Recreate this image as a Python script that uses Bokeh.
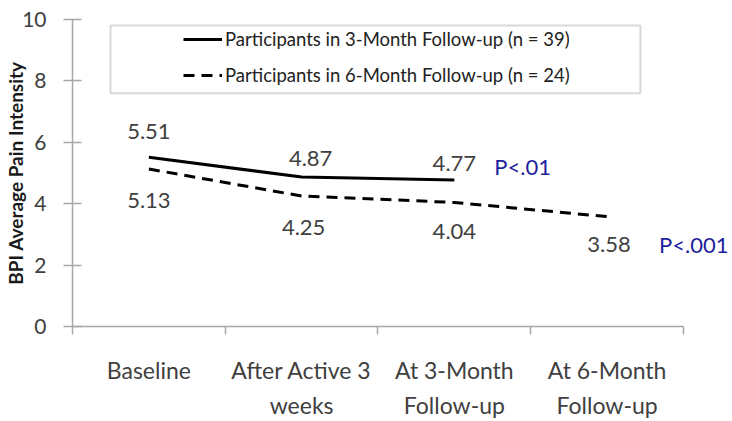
from bokeh.plotting import figure
from bokeh.models import Range1d, FixedTicker, ColumnDataSource, Legend, LegendItem, BoxAnnotation
from bokeh.embed import file_html
from bokeh.resources import INLINE
from bokeh.core.properties import value

# ---- data ----
categories = ["Baseline", "After Active 3\nweeks", "At 3-Month\nFollow-up", "At 6-Month\nFollow-up"]
three_month = [5.51, 4.87, 4.77]
six_month = [5.13, 4.25, 4.04, 3.58]
series_names = ["Participants in 3-Month Follow-up (n = 39)",
                "Participants in 6-Month Follow-up (n = 24)"]
p_values = ["P<.01", "P<.001"]
y_ticks = [0, 2, 4, 6, 8, 10]

# ---- style ----
FONT = "Lato"
AXIS_GRAY = "#a6a6a6"
TEXT_GRAY = "#404040"
P_BLUE = "#1f1f9e"

n_cat = len(categories)
centers = [i + 0.5 for i in range(n_cat)]

p = figure(width=732, height=421, output_backend="svg", toolbar_location=None,
           x_range=Range1d(0, 4.321), y_range=Range1d(0, 10),
           min_border_left=72, min_border_right=0, min_border_top=19, min_border_bottom=94)
p.outline_line_color = None
p.grid.visible = False
p.background_fill_color = "white"

# x axis: labels at category centres, tick marks at category boundaries
xa = p.xaxis[0]
xa.ticker = FixedTicker(ticks=centers, minor_ticks=list(range(n_cat + 1)))
xa.major_label_overrides = {c: lab for c, lab in zip(centers, categories)}
xa.bounds = (0, n_cat)
xa.major_tick_in = 0
xa.major_tick_out = 0
xa.minor_tick_in = 0
xa.minor_tick_out = 8
xa.minor_tick_line_color = AXIS_GRAY
xa.minor_tick_line_width = 1.5
xa.axis_line_color = AXIS_GRAY
xa.axis_line_width = 1.5
xa.major_label_standoff = 21
xa.major_label_text_font = FONT
xa.major_label_text_font_size = "23px"
xa.major_label_text_color = TEXT_GRAY
xa.major_label_text_line_height = 1.25

ya = p.yaxis[0]
ya.ticker = FixedTicker(ticks=y_ticks, minor_ticks=[])
ya.major_tick_in = 9
ya.major_tick_out = 9
ya.major_tick_line_color = AXIS_GRAY
ya.major_tick_line_width = 1.5
ya.axis_line_color = AXIS_GRAY
ya.axis_line_width = 1.5
ya.major_label_standoff = 17
ya.major_label_text_font = FONT
ya.major_label_text_font_size = "21px"
ya.major_label_text_color = TEXT_GRAY
ya.axis_label = "BPI Average Pain Intensity"
ya.axis_label_text_font = FONT
ya.axis_label_text_font_style = "bold"
ya.axis_label_text_font_size = "19px"
ya.axis_label_text_color = "#1a1a1a"
ya.axis_label_standoff = -8

# legend frame
p.add_layout(BoxAnnotation(left=0.249, right=3.718, bottom=7.597, top=9.805,
                           fill_alpha=0, line_color="#7f7f7f", line_width=2))

src3 = ColumnDataSource(dict(x=centers[:len(three_month)], y=three_month,
                             lab=[f"{v:.2f}" for v in three_month],
                             dx=[0, 9, 0], dy=[-26, -18, -17]))
src6 = ColumnDataSource(dict(x=centers[:len(six_month)], y=six_month,
                             lab=[f"{v:.2f}" for v in six_month],
                             dx=[0, 2, 0, 2], dy=[31, 31, 29, 28]))

r1 = p.line("x", "y", source=src3, line_color="black", line_width=3)
r2 = p.line("x", "y", source=src6, line_color="black", line_width=3, line_dash="11 7")

for src in (src3, src6):
    p.text("x", "y", text="lab", source=src, x_offset="dx", y_offset="dy",
           text_align="center", text_baseline="middle",
           text_font=value(FONT), text_font_size="22px", text_color=TEXT_GRAY)

psrc = ColumnDataSource(dict(x=[centers[len(three_month) - 1], centers[len(six_month) - 1]],
                             y=[three_month[-1], six_month[-1]], t=p_values,
                             dx=[40, 52], dy=[-14, 28]))
p.text("x", "y", text="t", source=psrc, x_offset="dx", y_offset="dy",
       text_align="left", text_baseline="middle",
       text_font=value(FONT), text_font_size="22px", text_color=P_BLUE)

legend = Legend(items=[LegendItem(label=series_names[0], renderers=[r1]),
                       LegendItem(label=series_names[1], renderers=[r2])],
                location=(111, 240), border_line_color=None, background_fill_alpha=0,
                padding=0, margin=0, glyph_width=39, glyph_height=20, label_height=20,
                spacing=14, label_standoff=3,
                label_text_font=FONT, label_text_font_size="18.5px", label_text_color="#222222")
p.add_layout(legend)

open("out.html", "w").write(file_html(p, INLINE))
